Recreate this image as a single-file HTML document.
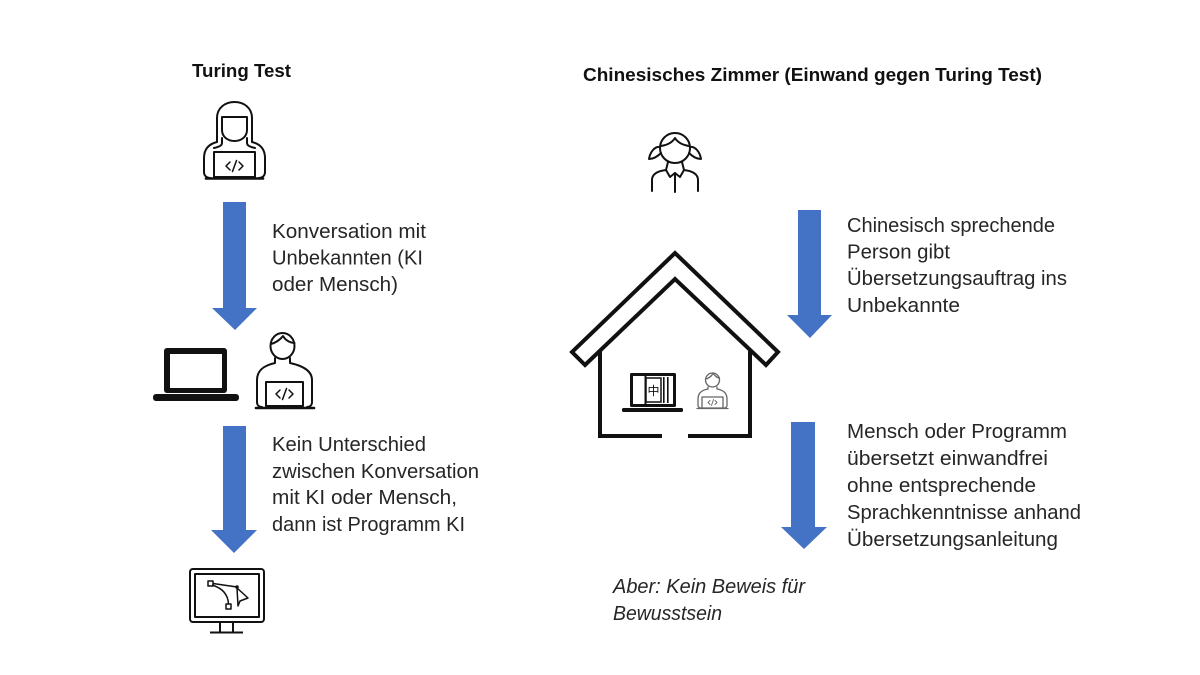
<!DOCTYPE html>
<html><head><meta charset="utf-8"><style>
html,body{margin:0;padding:0;background:#fff;}
svg{display:block;}
text{font-family:"Liberation Sans",Arial,sans-serif;fill:#262626;}
.t{font-size:20px;}
.b{font-size:18px;font-weight:bold;fill:#111;}
</style></head><body>
<svg width="1200" height="675" viewBox="0 0 1200 675" xmlns="http://www.w3.org/2000/svg">
<rect width="1200" height="675" fill="#fff"/>

<!-- Titles -->
<text class="b" x="192" y="77" textLength="99" lengthAdjust="spacingAndGlyphs">Turing Test</text>
<text class="b" x="583" y="81" textLength="459" lengthAdjust="spacingAndGlyphs">Chinesisches Zimmer (Einwand gegen Turing Test)</text>

<!-- Arrows -->
<g fill="#4472C4">
<polygon points="223,202 246,202 246,308 257,308 235,330 212,308 223,308"/>
<polygon points="223,426 246,426 246,530 257,530 234,553 211,530 223,530"/>
<polygon points="798,210 821,210 821,315 832,315 810,338 787,315 798,315"/>
<polygon points="791,422 815,422 815,527 827,527 804,549 781,527 791,527"/>
</g>

<!-- Left texts -->
<text class="t" x="272" y="238" textLength="154" lengthAdjust="spacingAndGlyphs">Konversation mit</text>
<text class="t" x="272" y="264.5" textLength="151" lengthAdjust="spacingAndGlyphs">Unbekannten (KI</text>
<text class="t" x="272" y="291" textLength="126" lengthAdjust="spacingAndGlyphs">oder Mensch)</text>

<text class="t" x="272" y="451" textLength="154" lengthAdjust="spacingAndGlyphs">Kein Unterschied</text>
<text class="t" x="272" y="478" textLength="207" lengthAdjust="spacingAndGlyphs">zwischen Konversation</text>
<text class="t" x="272" y="504" textLength="185" lengthAdjust="spacingAndGlyphs">mit KI oder Mensch,</text>
<text class="t" x="272" y="531" textLength="193" lengthAdjust="spacingAndGlyphs">dann ist Programm KI</text>

<!-- Right texts -->
<text class="t" x="847" y="232" textLength="208" lengthAdjust="spacingAndGlyphs">Chinesisch sprechende</text>
<text class="t" x="847" y="258.5" textLength="103" lengthAdjust="spacingAndGlyphs">Person gibt</text>
<text class="t" x="847" y="285" textLength="220" lengthAdjust="spacingAndGlyphs">Übersetzungsauftrag ins</text>
<text class="t" x="847" y="312" textLength="113" lengthAdjust="spacingAndGlyphs">Unbekannte</text>

<text class="t" x="847" y="438" textLength="220" lengthAdjust="spacingAndGlyphs">Mensch oder Programm</text>
<text class="t" x="847" y="465" textLength="201" lengthAdjust="spacingAndGlyphs">übersetzt einwandfrei</text>
<text class="t" x="847" y="492" textLength="189" lengthAdjust="spacingAndGlyphs">ohne entsprechende</text>
<text class="t" x="847" y="519" textLength="234" lengthAdjust="spacingAndGlyphs">Sprachkenntnisse anhand</text>
<text class="t" x="847" y="546" textLength="211" lengthAdjust="spacingAndGlyphs">Übersetzungsanleitung</text>

<text class="t" x="613" y="593" font-style="italic" textLength="192" lengthAdjust="spacingAndGlyphs">Aber: Kein Beweis für</text>
<text class="t" x="613" y="620" font-style="italic" textLength="109" lengthAdjust="spacingAndGlyphs">Bewusstsein</text>

<!-- Woman with laptop (top-left) -->
<g fill="none" stroke="#111" stroke-width="2" stroke-linecap="round" stroke-linejoin="round">
<path d="M217,142 L217,118 C217,108 225,102 234.5,102 C244,102 252,108 252,118 L252,142"/>
<path d="M222,117 L247,117 L247,130 C247,137 241,141 234.5,141 C228,141 222,137 222,130 Z"/>
<path d="M217,142 C209,144 204,149 204,158 L204,172 C204,176 207,178 210,178"/>
<path d="M252,142 C260,144 265,149 265,158 L265,172 C265,176 262,178 259,178"/>
<path d="M222,138 L222,143 C222,146 218,147 214,148"/>
<path d="M247,138 L247,143 C247,146 251,147 255,148"/>
<rect x="214" y="152" width="41" height="25" fill="#fff"/>
<path d="M206,178.5 L263,178.5" stroke-width="2.6"/>
<path d="M230,162 L226,166 L230,170 M236.5,160.5 L232.5,171.5 M239,162 L243,166 L239,170" stroke-width="1.5"/>
</g>

<!-- Laptop (left middle) -->
<rect x="164" y="348" width="63" height="45" rx="3" fill="#111"/>
<rect x="170" y="354" width="52" height="34" fill="#fff"/>
<rect x="153" y="394" width="86" height="7" rx="3" fill="#111"/>

<!-- Man with laptop -->
<g fill="none" stroke="#111" stroke-width="2" stroke-linecap="round" stroke-linejoin="round">
<ellipse cx="282.5" cy="346" rx="12" ry="13"/>
<path d="M271,344 C275,343 280,340 283,336 C286,341 291,343 294.5,343"/>
<path d="M275,358 L275,363 C266,365 257,369 257,380 L257,402 C257,405 259,407 262,407"/>
<path d="M290,358 L290,363 C299,365 312,369 312,380 L312,402 C312,405 310,407 307,407"/>
<rect x="266" y="382" width="37" height="24" fill="#fff"/>
<path d="M256,408 L314,408" stroke-width="2.6"/>
<path d="M280,390 L276,394 L280,398 M286.5,388.5 L282.5,399.5 M289,390 L293,394 L289,398" stroke-width="1.5"/>
</g>

<!-- Monitor -->
<g fill="none" stroke="#111" stroke-width="2" stroke-linejoin="round">
<rect x="190" y="569" width="74" height="53" rx="3"/>
<rect x="195" y="574" width="64" height="43"/>
<path d="M220,622 L220,632 M233,622 L233,632 M210,632.5 L243,632.5"/>
<rect x="208" y="581" width="5" height="5" stroke-width="1.5"/>
<rect x="226" y="604" width="5" height="5" stroke-width="1.5"/>
<path d="M213,583.5 L237,587" stroke-width="1.5"/>
<path d="M212,585 C222,588 228,594 228.5,604" stroke-width="1.5"/>
<path d="M237,588 L248,598 L240,601 L238,606 Z" stroke-width="1.5"/>
</g>
<circle cx="237" cy="587" r="1.8" fill="#111"/>

<!-- Girl -->
<g fill="none" stroke="#111" stroke-width="2" stroke-linecap="round" stroke-linejoin="round">
<circle cx="675" cy="148" r="15"/>
<path d="M661,146 C667,145 672,143 675,138 C678,143 683,145 689,146"/>
<path d="M660,147 C655,146 650,152 649,159 C653,159 657,157 661,153"/>
<path d="M690,147 C695,146 700,152 701,159 C697,159 693,157 689,153"/>
<path d="M652,191 L652,180 C652,174 658,171 666,170"/>
<path d="M698,191 L698,180 C698,174 692,171 684,170"/>
<path d="M668,162 L666,170 L670,177 L675,173 L680,177 L684,170 L682,162"/>
<path d="M675,173 L675,192"/>
</g>

<!-- House -->
<g fill="none" stroke="#111" stroke-width="4" stroke-linejoin="miter">
<path d="M585,365 L675,279 L766,365 L778,352 L675,253 L572,352 Z"/>
<path d="M662,436 L600,436 L600,351"/>
<path d="M688,436 L750,436 L750,351"/>
</g>

<!-- Laptop with book in house -->
<rect x="630" y="373" width="46" height="34" rx="1.5" fill="#111"/>
<rect x="633" y="376" width="40" height="28" fill="#fff"/>
<rect x="644.5" y="376" width="2" height="28" fill="#111"/>
<rect x="646" y="378" width="15" height="24" fill="none" stroke="#111" stroke-width="1.5"/>
<rect x="663" y="377" width="1.6" height="26" fill="#111"/>
<rect x="667" y="377" width="1.6" height="26" fill="#111"/>
<text x="653.5" y="395" font-size="12" text-anchor="middle" style="font-family:'Liberation Sans','Noto Sans CJK SC',sans-serif;fill:#111;">中</text>
<rect x="622" y="408" width="61" height="4" rx="1.5" fill="#111"/>

<!-- Small person in house -->
<g fill="none" stroke="#666" stroke-width="1.3" stroke-linecap="round" stroke-linejoin="round">
<circle cx="712.5" cy="380" r="7"/>
<path d="M706,379 C709,378 712,376 713,373 C715,376 717,378 719.5,378"/>
<path d="M708,387 L708,389 C702,390 698,393 698,399 L698,405 C698,407 699,408 701,408"/>
<path d="M717,387 L717,389 C723,390 727,393 727,399 L727,405 C727,407 726,408 724,408"/>
<rect x="702" y="397" width="21" height="11" fill="#fff"/>
<path d="M697,408.5 L728,408.5"/>
<path d="M710,400.5 L708,402.5 L710,404.5 M713.5,399.5 L711.5,405.5 M715,400.5 L717,402.5 L715,404.5" stroke-width="0.9"/>
</g>
</svg>
</body></html>
